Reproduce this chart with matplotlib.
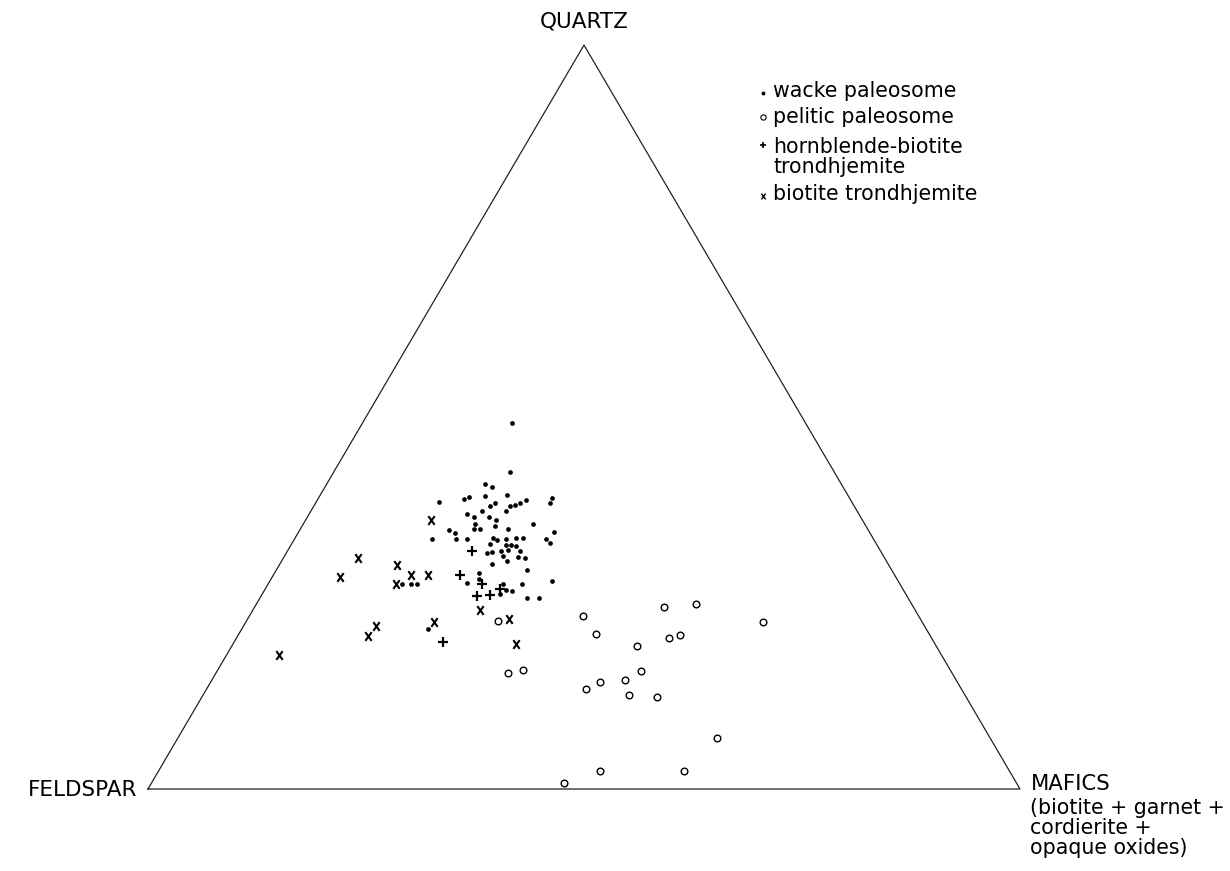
import matplotlib
matplotlib.use("Agg")
import matplotlib.pyplot as plt
import numpy as np
from matplotlib.path import Path

# modal compositions (%), quartz and mafics; feldspar is the rest
wacke_q = [49.2, 42.6, 41.0, 40.6, 38.6, 39.0, 39.3, 39.4, 39.5, 38.5, 39.1, 38.5,
           38.0, 38.0, 38.2, 38.4, 38.8, 37.4, 37.4, 36.9, 36.6, 36.5, 36.1, 35.6,
           35.4, 35.6, 34.9, 34.9, 35.0, 34.8, 34.4, 34.5, 33.6, 33.6, 33.6, 33.7,
           33.5, 33.6, 33.7, 33.7, 33.6, 33.0, 32.9, 32.8, 32.8, 32.6, 31.7, 31.9,
           32.0, 32.1, 32.0, 31.3, 31.2, 31.0, 30.2, 30.7, 29.5, 29.0, 28.2, 27.7,
           27.6, 26.8, 26.6, 26.2, 27.6, 27.9, 25.7, 25.7, 27.5, 27.5, 27.5, 21.5]
wacke_m = [17.1, 20.2, 18.2, 19.2, 14.1, 16.7, 17.2, 19.0, 21.4, 26.8, 26.8, 20.6,
           20.2, 22.5, 23.0, 23.5, 23.9, 22.4, 19.6, 18.1, 19.1, 20.9, 21.9, 19.7,
           22.1, 26.4, 19.9, 20.6, 23.8, 17.1, 18.0, 29.3, 15.8, 18.5, 19.8, 22.7,
           23.3, 24.3, 25.4, 26.1, 28.8, 29.6, 22.8, 24.6, 25.2, 25.9, 23.0, 23.5,
           24.5, 25.2, 26.7, 25.1, 26.8, 27.7, 24.4, 25.8, 28.7, 23.5, 23.9, 22.7,
           26.9, 27.6, 28.4, 27.3, 29.1, 32.4, 30.6, 32.0, 15.4, 16.4, 17.1, 21.4]

pelitic_q = [22.6, 23.3, 20.9, 24.5, 24.8, 22.4, 20.3, 20.7, 19.2, 15.6, 16.0,
             15.8, 14.6, 14.4, 13.5, 12.6, 12.4, 6.9, 2.4, 2.4, 0.8]
pelitic_m = [28.8, 38.2, 40.9, 46.9, 50.5, 59.3, 49.6, 50.7, 46.5, 33.5, 35.0,
             48.6, 47.4, 44.6, 43.5, 48.9, 52.2, 61.8, 50.6, 60.3, 47.3]

hbl_q = [32.0, 28.7, 27.6, 26.9, 26.0, 26.1, 19.7]
hbl_m = [21.2, 21.4, 24.5, 26.9, 24.7, 26.2, 24.0]

bt_q = [36.2, 31.0, 28.5, 30.1, 28.8, 28.8, 27.5, 24.1, 22.9, 19.5, 21.9, 20.5,
        22.5, 18.0]
bt_m = [14.3, 8.6, 7.8, 13.5, 15.8, 17.7, 14.7, 26.0, 30.0, 32.4, 15.2, 15.0,
        21.6, 6.0]

legend_labels = ["wacke paleosome", "pelitic paleosome",
                 "hornblende-biotite\ntrondhjemite", "biotite trondhjemite"]


def tern(q, m):
    # quartz at the top, feldspar bottom-left, mafics bottom-right
    q = np.asarray(q, float)
    m = np.asarray(m, float)
    return m + q / 2.0, q


xmark = Path([(-0.36, -0.5), (0.36, 0.5), (-0.36, 0.5), (0.36, -0.5)],
             [Path.MOVETO, Path.LINETO, Path.MOVETO, Path.LINETO])

fig = plt.figure(figsize=(12.3, 8.71), dpi=100)
ax = fig.add_axes([148 / 1230, 82 / 871, 872 / 1230, 744 / 871])
ax.set_xlim(0, 100)
ax.set_ylim(0, 100)
ax.axis("off")

ax.plot([0, 100, 50, 0], [0, 0, 100, 0], color="#222222", lw=0.9,
        clip_on=False, solid_joinstyle="miter")

x, y = tern(wacke_q, wacke_m)
ax.plot(x, y, "o", color="black", ms=3.4, mew=0)
x, y = tern(pelitic_q, pelitic_m)
ax.plot(x, y, "o", mfc="none", mec="black", ms=4.8, mew=1.0)
x, y = tern(hbl_q, hbl_m)
ax.plot(x, y, "+", color="black", ms=6.5, mew=1.6)
x, y = tern(bt_q, bt_m)
ax.plot(x, y, ls="none", marker=xmark, mfc="none", mec="black", ms=6.3, mew=1.5)

fs = 14.8
ax.text(50, 103.1, "QUARTZ", ha="center", va="center", fontsize=15.5)
ax.text(-1.2, -0.1, "FELDSPAR", ha="right", va="center", fontsize=15.5)
ax.text(101.2, 2.0, "MAFICS", ha="left", va="top", fontsize=15.2)
ax.text(101.2, -1.2, "(biotite + garnet +\ncordierite +\nopaque oxides)",
        ha="left", va="top", fontsize=fs, linespacing=1.0)

# legend drawn by hand so the marker sits on the first line
lx, tx = 70.5, 71.7
ly = [93.05, 89.56, 82.84, 79.17]   # baseline of each label's last line
my = [93.5, 90.36, 86.56, 79.74]
ax.plot(lx, my[0], "o", color="black", ms=2.8, mew=0, clip_on=False)
ax.plot(lx, my[1], "o", mfc="none", mec="black", ms=3.8, mew=0.8, clip_on=False)
ax.plot(lx, my[2], "+", color="black", ms=4.8, mew=1.2, clip_on=False)
ax.plot(lx, my[3], ls="none", marker=xmark, mfc="none", mec="black", ms=4.2,
        mew=1.0, clip_on=False)
for yy, lab in zip(ly, legend_labels):
    ax.text(tx, yy, lab, ha="left", va="baseline", fontsize=fs, linespacing=0.98)

fig.savefig("out.png", dpi=100, facecolor="white")
